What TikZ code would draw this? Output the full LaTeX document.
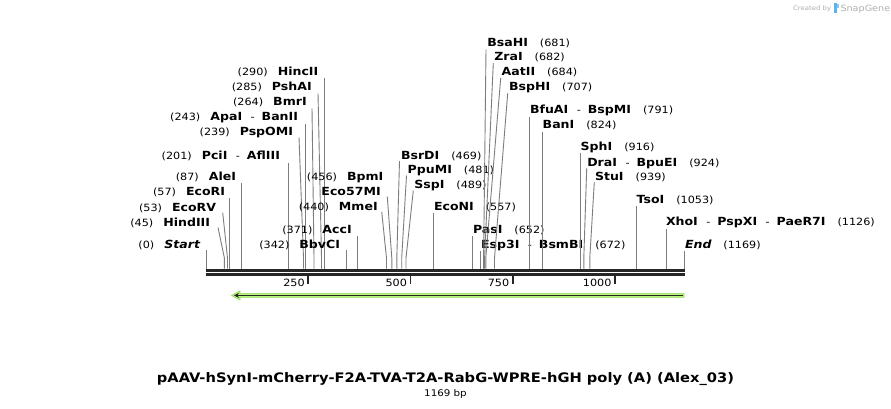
\documentclass[tikz,border=0pt]{standalone}
\usepackage{fontspec}
\setmainfont[FakeStretch=1.12]{DejaVu Sans}
\usetikzlibrary{arrows.meta}
\definecolor{cutgray}{RGB}{125,125,125}
\definecolor{bbcol}{RGB}{38,38,38}
\definecolor{featgreen}{RGB}{184,242,128}
\definecolor{featedge}{RGB}{150,222,90}
\definecolor{wmgray}{RGB}{175,175,175}
\definecolor{wmblue}{RGB}{90,180,235}
\newcommand\nm[1]{{\fontsize{11.2}{13}\selectfont\bfseries #1}}
\newcommand\ps[1]{{\fontsize{10}{12}\selectfont #1}}
\newcommand\dsh{\hspace{8.5pt}{\fontsize{10}{12}\selectfont -}\hspace{7pt}}
\newcommand\gp{\hspace{12pt}}
\newcommand\lgp{\hspace{10pt}}
\newcommand\cutl[4]{%
  \coordinate (#1-top) at (#3,#4);
  \coordinate (#1-bend) at (#2,258);
  \coordinate (#1-site) at (#2,268.5);
  \draw[cutline] (#1-top) -- (#1-bend) -- (#1-site);}
\tikzset{
  cutline/.style={draw=cutgray, line width=0.9pt},
  lab/.style={inner sep=0pt, outer sep=0pt},
  llab/.style={lab, anchor=base east},
  rlab/.style={lab, anchor=base west},
  bbline/.style={draw=bbcol, line width=2.4pt},
  tickmark/.style={draw=bbcol, line width=1.8pt},
}
\begin{document}
\begin{tikzpicture}[x=1pt,y=-1pt]
\useasboundingbox[fill=white] (0,0) rectangle (891,408);

% watermark
\node[lab, anchor=base west, text=wmgray] (wm1) at (793,10) {\fontsize{6.2}{7}\selectfont Created by};
\fill[wmblue] (833.5,3) rectangle (836.5,13);
\fill[wmblue!70] (836.5,3.5) rectangle (838.5,8);
\node[lab, anchor=base west, text=wmgray] (wm2) at (840.5,11) {\fontsize{8.6}{10}\selectfont SnapGene};

% backbone
\coordinate (bbL1) at (205.7,270.5); \coordinate (bbR1) at (684.5,270.5);
\coordinate (bbL2) at (205.7,274.5); \coordinate (bbR2) at (684.5,274.5);
\draw[bbline] (bbL1) -- (bbR1);
\draw[bbline] (bbL2) -- (bbR2);

% ticks
\foreach \tx/\tl in {308.2/250, 410.4/500, 512.7/750, 614.9/1000}{
  \coordinate (tk\tl a) at (\tx,275.5);
  \coordinate (tk\tl b) at (\tx,283.5);
  \draw[tickmark] (tk\tl a) -- (tk\tl b);
  \node[llab] (tl\tl) at (\tx-3.5,286.5) {\ps{\tl}};
}

% feature arrow
\fill[featgreen, draw=featedge, line width=0.6pt] (684,293.4) -- (240,293.4) -- (240,290.8) -- (231.5,295.4) -- (240,300) -- (240,297.4) -- (684,297.4) -- cycle;
\coordinate (fR) at (683,295.4); \coordinate (fL) at (234,295.4);
\draw[draw=bbcol, line width=1.3pt, -{Stealth[length=5pt,width=5pt]}] (fR) -- (fL);

% ---- left labels ----
\node[llab] (start) at (200,248.5) {\ps{(0)}\lgp\nm{\itshape Start}};
\cutl{start}{206.3}{206.3}{250}
\node[llab] (hind) at (210,226) {\ps{(45)}\lgp\nm{HindIII}};
\cutl{hind}{224.4}{218}{227.5}
\node[llab] (ecorv) at (216,211) {\ps{(53)}\lgp\nm{EcoRV}};
\cutl{ecorv}{227.5}{222.7}{212.7}
\node[llab] (ecori) at (225,195.5) {\ps{(57)}\lgp\nm{EcoRI}};
\cutl{ecori}{229.3}{229.3}{198}
\node[llab] (ale) at (236,180.5) {\ps{(87)}\lgp\nm{AleI}};
\cutl{ale}{241.5}{241.5}{183}
\node[llab] (pci) at (280,159) {\ps{(201)}\lgp\nm{PciI}\dsh\nm{AflIII}};
\cutl{pci}{288.3}{288.3}{162.7}
\node[llab] (pspomi) at (293,135) {\ps{(239)}\lgp\nm{PspOMI}};
\cutl{pspomi}{303.5}{299}{137.3}
\node[llab] (apa) at (298,120.5) {\ps{(243)}\lgp\nm{ApaI}\dsh\nm{BanII}};
\cutl{apa}{305.5}{305.5}{124.3}
\node[llab] (bmr) at (306.7,105) {\ps{(264)}\lgp\nm{BmrI}};
\cutl{bmr}{314}{312}{108.3}
\node[llab] (psha) at (311.7,90.5) {\ps{(285)}\lgp\nm{PshAI}};
\cutl{psha}{321.5}{318}{93.3}
\node[llab] (hinc) at (318.3,75.7) {\ps{(290)}\lgp\nm{HincII}};
\cutl{hinc}{324.4}{324.4}{77.7}
\node[llab] (bbvc) at (340,248.3) {\ps{(342)}\lgp\nm{BbvCI}};
\cutl{bbvc}{346.5}{346.5}{250}
\node[llab] (acc) at (351.7,233.5) {\ps{(371)}\lgp\nm{AccI}};
\cutl{acc}{357.4}{357.4}{236}
\node[llab] (mme) at (377.7,210.7) {\ps{(440)}\lgp\nm{MmeI}};
\cutl{mme}{386.5}{381.7}{211.7}
\node[llab] (eco57) at (380.7,195.7) {\nm{Eco57MI}};
\cutl{eco57}{391.8}{387.3}{196.7}
\node[llab] (bpm) at (383.3,180.7) {\ps{(456)}\lgp\nm{BpmI}};

% ---- right labels ----
\node[rlab] (bsrd) at (401,159) {\nm{BsrDI}\gp\ps{(469)}};
\cutl{bsrd}{396.8}{399.5}{161}
\node[rlab] (ppum) at (407.7,173.3) {\nm{PpuMI}\gp\ps{(481)}};
\cutl{ppum}{401.7}{406.5}{175.5}
\node[rlab] (ssp) at (414.3,188.3) {\nm{SspI}\gp\ps{(489)}};
\cutl{ssp}{406}{413.3}{190.5}
\node[rlab] (econ) at (434,210.7) {\nm{EcoNI}\gp\ps{(557)}};
\cutl{econ}{433.5}{433.5}{213}
\node[rlab] (pas) at (473,233.3) {\nm{PasI}\gp\ps{(652)}};
\cutl{pas}{472.4}{472.4}{236}
\node[rlab] (esp3) at (481,248.7) {\nm{Esp3I}\dsh\nm{BsmBI}\gp\ps{(672)}};
\cutl{esp3}{480.4}{480.4}{250.5}
\node[rlab] (bsah) at (487.3,46.5) {\nm{BsaHI}\gp\ps{(681)}};
\cutl{bsah}{483.6}{486}{49.3}
\node[rlab] (zra) at (494.3,60.7) {\nm{ZraI}\gp\ps{(682)}};
\cutl{zra}{484.6}{493.3}{63}
\node[rlab] (aat) at (501.7,75.7) {\nm{AatII}\gp\ps{(684)}};
\cutl{aat}{485.8}{500.7}{78}
\node[rlab] (bsph) at (509,90.7) {\nm{BspHI}\gp\ps{(707)}};
\cutl{bsph}{494.5}{507.7}{93.3}
\node[rlab] (bfua) at (530,113.7) {\nm{BfuAI}\dsh\nm{BspMI}\gp\ps{(791)}};
\cutl{bfua}{529.5}{529.5}{117.3}
\node[rlab] (ban) at (542.7,128.7) {\nm{BanI}\gp\ps{(824)}};
\cutl{ban}{542.7}{542.7}{131.7}
\node[rlab] (sph) at (580.7,150.7) {\nm{SphI}\gp\ps{(916)}};
\cutl{sph}{580.6}{580.6}{153.3}
\node[rlab] (dra) at (587.3,166.3) {\nm{DraI}\dsh\nm{BpuEI}\gp\ps{(924)}};
\cutl{dra}{583.8}{586.7}{168.3}
\node[rlab] (stu) at (595,180.7) {\nm{StuI}\gp\ps{(939)}};
\cutl{stu}{589.8}{594.3}{182}
\node[rlab] (tso) at (636.7,203.7) {\nm{TsoI}\gp\ps{(1053)}};
\cutl{tso}{636.5}{636.5}{206}
\node[rlab] (xho) at (666,225.5) {\nm{XhoI}\dsh\nm{PspXI}\dsh\nm{PaeR7I}\gp\ps{(1126)}};
\cutl{xho}{666.3}{666.3}{229.3}
\node[rlab] (end) at (685,248.7) {\nm{\itshape End}\gp\ps{(1169)}};
\cutl{end}{684.4}{684.4}{250.7}

% title
\node[lab, anchor=base] (title) at (445.5,382) {\fontsize{13.1}{15}\selectfont\bfseries pAAV-hSynI-mCherry-F2A-TVA-T2A-RabG-WPRE-hGH poly (A) (Alex\_03)};
\node[lab, anchor=base] (len) at (445.5,396) {\fontsize{9.2}{10}\selectfont 1169 bp};
\end{tikzpicture}
\end{document}
